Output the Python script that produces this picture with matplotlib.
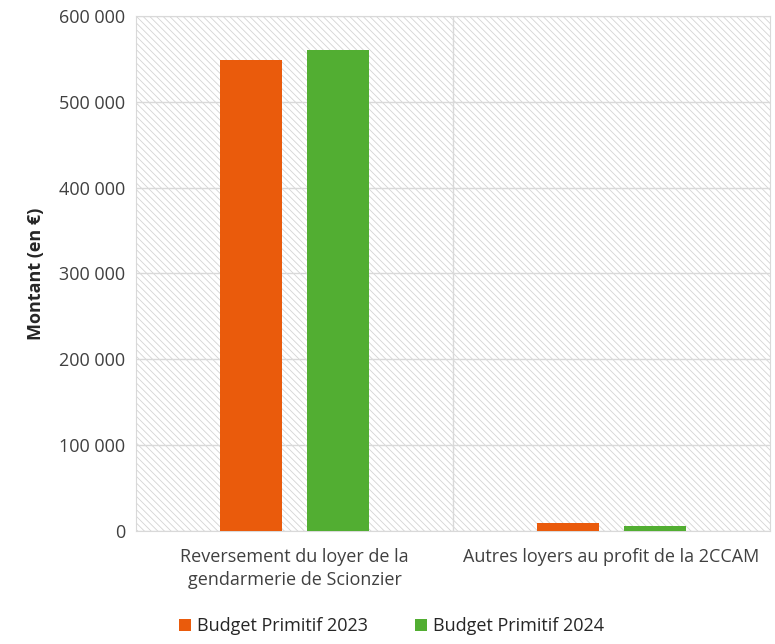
import numpy as np
import matplotlib.pyplot as plt
from matplotlib.patches import Rectangle
from matplotlib.ticker import FuncFormatter

# Budget data (euros)
categories = ["Reversement du loyer de la\ngendarmerie de Scionzier",
              "Autres loyers au profit de la 2CCAM"]
bp2023 = [548000, 9000]
bp2024 = [560000, 5500]
series_names = ["Budget Primitif 2023", "Budget Primitif 2024"]
colors = ["#ea5b0c", "#52ae32"]

plt.rcParams['font.family'] = ['Open Sans', 'DejaVu Sans']
plt.rcParams['hatch.color'] = '#d4d4d4'
plt.rcParams['hatch.linewidth'] = 0.6

fig = plt.figure(figsize=(7.75, 6.44), dpi=100)
ax = fig.add_axes([0.1755, 0.1755, 0.818, 0.80])

# Hatched plot background
bg = Rectangle((0, 0), 1, 1, transform=ax.transAxes, facecolor='white',
               edgecolor='#d4d4d4', hatch='\\\\\\\\\\', lw=0, zorder=0)
ax.add_patch(bg)

x = np.arange(len(categories))
offset = 0.137
width = 0.196
ax.bar(x - offset, bp2023, width, color=colors[0], label=series_names[0], zorder=3)
ax.bar(x + offset, bp2024, width, color=colors[1], label=series_names[1], zorder=3)

ax.set_xlim(-0.5, len(categories) - 0.5)
ax.set_ylim(0, 600000)
ax.set_yticks(np.arange(0, 600001, 100000))
ax.yaxis.set_major_formatter(FuncFormatter(lambda v, p: f"{int(v):,}".replace(",", " ")))
ax.grid(axis='y', color='#d9d9d9', lw=1, zorder=1)
ax.axvline(0.5, color='#d9d9d9', lw=1, zorder=1)

ax.set_xticks(x)
ax.set_xticklabels(categories, fontsize=13, color='#404040', linespacing=1.4)
ax.tick_params(axis='both', length=0, labelsize=13, labelcolor='#404040')
ax.tick_params(axis='x', pad=12)
ax.tick_params(axis='y', pad=8)

for s in ax.spines.values():
    s.set_color('#d9d9d9')

ax.set_ylabel("Montant (en €)", fontsize=13, fontweight='bold', color='#262626', labelpad=10)

fig.legend(loc='lower center', bbox_to_anchor=(0.505, -0.012), ncol=2, frameon=False,
           fontsize=13, handlelength=0.7, handleheight=0.7, handletextpad=0.3,
           columnspacing=2.6, labelcolor='#262626')

fig.savefig("out.png", dpi=100)
